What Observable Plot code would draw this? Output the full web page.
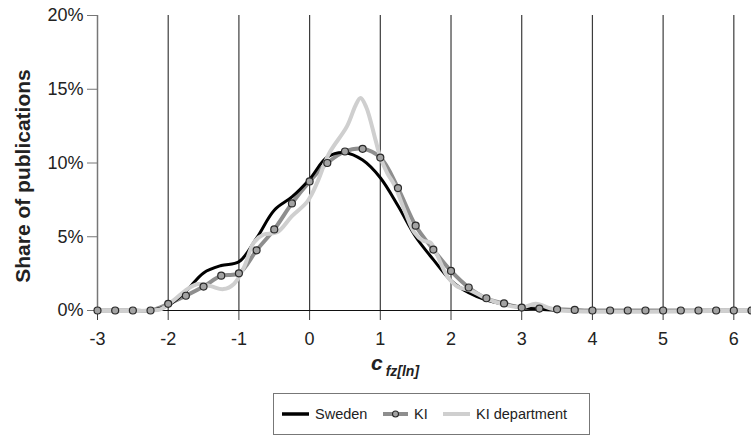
<!DOCTYPE html>
<html>
<head>
<meta charset="utf-8">
<script src="https://cdn.jsdelivr.net/npm/d3@7"></script>
<script src="https://cdn.jsdelivr.net/npm/@observablehq/plot@0.6"></script>
<style>
  body { margin: 0; background: #fff; font-family: "Liberation Sans", Arial, sans-serif; }
  #chart { position: relative; width: 751px; height: 437px; overflow: hidden; }
  #chart svg { display: block; }
  #legend { position: absolute; left: 273px; top: 393px; width: 317px; height: 42px;
            border: 1px solid #777; box-sizing: border-box; background: #fff; }
  .item { position: absolute; top: 0; height: 100%; display: flex; align-items: center;
          font-size: 14.5px; color: #222; white-space: nowrap; }
  .item svg { margin-right: 6px; }
</style>
</head>
<body>
<div id="chart"></div>
<script>
// Axis ticks
const xTicks = [-3, -2, -1, 0, 1, 2, 3, 4, 5, 6];
const yTicks = [0, 5, 10, 15, 20];

// KI: share of publications (%) per c_fz[ln] bin
const kiX = [-3, -2.75, -2.5, -2.25, -2, -1.75, -1.5, -1.25, -1, -0.75, -0.5, -0.25,
             0, 0.25, 0.5, 0.75, 1, 1.25, 1.5, 1.75, 2, 2.25, 2.5, 2.75,
             3, 3.25, 3.5, 3.75, 4, 4.25, 4.5, 4.75, 5, 5.25, 5.5, 5.75, 6, 6.25];
const kiShare = [0, 0, 0, 0, 0.45, 1.0, 1.62, 2.36, 2.52, 4.08, 5.5, 7.26,
                 8.75, 10.0, 10.78, 10.96, 10.37, 8.3, 5.75, 4.13, 2.68, 1.56, 0.83, 0.48,
                 0.2, 0.13, 0.08, 0.04, 0, 0, 0, 0, 0, 0, 0, 0, 0, 0];

// Sweden
const swedenX = [-2.25, -2, -1.75, -1.5, -1.25, -1, -0.75, -0.5, -0.25, 0, 0.25, 0.5,
                 0.75, 1, 1.25, 1.5, 1.75, 2, 2.25, 2.5, 2.75, 3, 3.25, 3.5];
const swedenShare = [0, 0.35, 1.3, 2.55, 3.05, 3.3, 4.9, 6.8, 7.7, 8.9, 10.4, 10.7,
                     10.2, 9.0, 7.1, 5.0, 3.45, 2.03, 1.2, 0.7, 0.42, 0.22, 0.08, 0];

// KI department
const deptX = [-3, -2.25, -2.1, -1.92, -1.73, -1.58, -1.4, -1.22, -1.07, -0.93, -0.79, -0.65,
               -0.46, -0.25, -0.03, 0.11, 0.27, 0.53, 0.65, 0.72, 0.8, 0.93, 1.0, 1.1,
               1.2, 1.35, 1.48, 1.6, 1.71, 1.8, 1.95, 2.1, 2.28, 2.5, 2.75, 3.0,
               3.2, 3.4, 3.55, 6.25];
const deptShare = [0, 0, 0.1, 0.7, 1.45, 1.8, 1.65, 1.45, 1.8, 2.9, 4.6, 5.15,
                   5.3, 6.4, 7.4, 8.7, 10.6, 12.5, 13.9, 14.4, 13.8, 11.6, 10.4, 9.3,
                   8.5, 6.7, 5.3, 4.75, 4.6, 3.8, 2.3, 1.6, 1.35, 0.8, 0.4, 0.22,
                   0.45, 0.15, 0, 0];

const ki = kiX.map((x, i) => ({x, y: kiShare[i]}));
const sweden = swedenX.map((x, i) => ({x, y: swedenShare[i]}));
const dept = deptX.map((x, i) => ({x, y: deptShare[i]}));

const font = "'Liberation Sans', Arial, sans-serif";

const chart = Plot.plot({
  width: 751,
  height: 393,
  marginLeft: 97,
  marginRight: 0,
  marginTop: 15,
  marginBottom: 83,
  x: {domain: [-3, 6.25]},
  y: {domain: [0, 20]},
  style: {fontFamily: font, background: "#fff", color: "#222"},
  marks: [
    // vertical grid
    Plot.ruleX(xTicks.slice(1), {y1: 0, y2: 20, stroke: "#3c3c3c", strokeWidth: 1.2}),
    // y axis line
    Plot.ruleX([-3], {y1: 0, y2: 20, stroke: "#777", strokeWidth: 1.5}),
    Plot.axisX({ticks: xTicks, tickSize: 10, tickPadding: 12, tickFormat: d => String(d),
                fontSize: 18, label: null, stroke: "#3c3c3c", fill: "#222"}),
    Plot.axisY({ticks: yTicks, tickSize: 10, tickPadding: 4, tickFormat: d => d + "%",
                fontSize: 18, label: null, stroke: "#777", fill: "#222"}),
    // baseline
    Plot.ruleY([0], {x1: -3, x2: 6.25, stroke: "#111", strokeWidth: 1}),
    Plot.line(ki, {x: "x", y: "y", stroke: "#8e8e8e", strokeWidth: 4, curve: "catmull-rom"}),
    Plot.line(sweden, {x: "x", y: "y", stroke: "#000", strokeWidth: 3, curve: "catmull-rom"}),
    Plot.line(dept, {x: "x", y: "y", stroke: "#cfcfcf", strokeWidth: 4, curve: "catmull-rom"}),
    Plot.dot(ki, {x: "x", y: "y", r: 3.5, fill: "#a3a3a3", stroke: "#2a2a2a", strokeWidth: 1.2})
  ]
});

const svg = d3.select(chart);

// y axis title
svg.append("text")
  .attr("transform", "translate(22,176) rotate(-90)")
  .attr("text-anchor", "middle")
  .attr("dy", "0.36em")
  .attr("font-family", font)
  .attr("font-weight", "bold")
  .attr("font-size", 21)
  .attr("fill", "#222")
  .text("Share of publications");

// x axis title with subscript
const xt = svg.append("text")
  .attr("x", 395)
  .attr("y", 370)
  .attr("font-family", font)
  .attr("font-weight", "bold")
  .attr("font-style", "italic")
  .attr("fill", "#222");
xt.append("tspan").attr("font-size", 21).text("c");
xt.append("tspan").attr("font-size", 14).attr("dx", 3).attr("dy", 6).text("fz[ln]");

const root = document.getElementById("chart");
root.appendChild(chart);

// legend
const legend = document.createElement("div");
legend.id = "legend";
const items = [
  {label: "Sweden", left: 8, stroke: "#000", width: 3.5, dot: false, swatch: 27},
  {label: "KI", left: 109, stroke: "#8e8e8e", width: 4, dot: true, swatch: 25},
  {label: "KI department", left: 169, stroke: "#cfcfcf", width: 4, dot: false, swatch: 27}
];
for (const it of items) {
  const el = document.createElement("div");
  el.className = "item";
  el.style.left = it.left + "px";
  const sw = d3.create("svg").attr("width", it.swatch).attr("height", 12);
  sw.append("line").attr("x1", 0).attr("x2", it.swatch).attr("y1", 6).attr("y2", 6)
    .attr("stroke", it.stroke).attr("stroke-width", it.width);
  if (it.dot) sw.append("circle").attr("cx", it.swatch / 2).attr("cy", 6).attr("r", 3)
    .attr("fill", "#a3a3a3").attr("stroke", "#2a2a2a").attr("stroke-width", 1.1);
  el.appendChild(sw.node());
  el.appendChild(document.createTextNode(it.label));
  legend.appendChild(el);
}
root.appendChild(legend);
</script>
</body>
</html>
